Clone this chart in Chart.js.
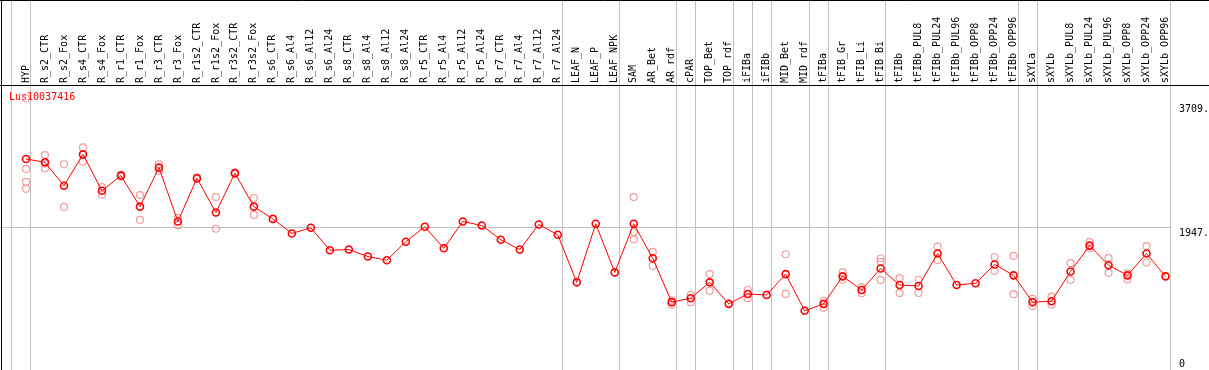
<!DOCTYPE html>
<html>
<head>
<meta charset="utf-8">
<script src="https://cdn.jsdelivr.net/npm/chart.js@4.4.0/dist/chart.umd.min.js"></script>
<style>
html, body { margin: 0; padding: 0; background: #fff; }
canvas { display: block; }
</style>
</head>
<body>
<canvas id="myChartLine" width="1209" height="370"></canvas>
<script>
var geneName = 'Lus10037416';

var categories = ['HYP', 'R_s2_CTR', 'R_s2_Fox', 'R_s4_CTR', 'R_s4_Fox', 'R_r1_CTR', 'R_r1_Fox',
  'R_r3_CTR', 'R_r3_Fox', 'R_r1s2_CTR', 'R_r1s2_Fox', 'R_r3s2_CTR', 'R_r3s2_Fox', 'R_s6_CTR',
  'R_s6_Al4', 'R_s6_Al12', 'R_s6_Al24', 'R_s8_CTR', 'R_s8_Al4', 'R_s8_Al12', 'R_s8_Al24',
  'R_r5_CTR', 'R_r5_Al4', 'R_r5_Al12', 'R_r5_Al24', 'R_r7_CTR', 'R_r7_Al4', 'R_r7_Al12', 'R_r7_Al24',
  'LEAF_N', 'LEAF_P', 'LEAF_NPK', 'SAM', 'AR_Bet', 'AR_rdf', 'cPAR', 'TOP_Bet', 'TOP_rdf',
  'iFIBa', 'iFIBb', 'MID_Bet', 'MID_rdf', 'tFIBa', 'tFIB_Gr', 'tFIB_Li', 'tFIB_Bi', 'tFIBb',
  'tFIBb_PUL8', 'tFIBb_PUL24', 'tFIBb_PUL96', 'tFIBb_OPP8', 'tFIBb_OPP24', 'tFIBb_OPP96',
  'sXYLa', 'sXYLb', 'sXYLb_PUL8', 'sXYLb_PUL24', 'sXYLb_PUL96', 'sXYLb_OPP8', 'sXYLb_OPP24', 'sXYLb_OPP96'];

// mean expression per sample
var meanValues = [2921, 2874, 2540, 2987, 2469, 2685, 2243, 2798, 2032, 2648, 2159, 2719, 2243, 2069,
  1862, 1943, 1623, 1633, 1534, 1482, 1745, 1957, 1651, 2032, 1975, 1773, 1633, 1990, 1844,
  1167, 1999, 1308, 1999, 1510, 885, 941, 1167, 861, 1002, 988, 1284, 762, 861, 1252, 1058, 1364, 1129,
  1115, 1576, 1129, 1153, 1421, 1266, 885, 899, 1322, 1689, 1411, 1266, 1576, 1252];

// individual replicates per sample
var replicateValues = [
  [3781, 2780, 2596, 2497], [2977, 2789, 2856], [2846, 2239], [3086, 2883], [2521, 2413],
  [2700, 2670], [2408, 2056], [2846, 2751], [2084, 1980], [2660, 2636], [2380, 1929],
  [2730, 2708], [2366, 2126], [], [], [], [], [], [], [], [], [], [], [], [], [], [], [], [],
  [], [], [], [2380, 1881, 1778], [1599, 1401], [851, 910], [988, 885], [1284, 1049], [],
  [1058, 941], [], [1566, 1002], [], [804, 905], [1308, 1204], [1096, 1012], [1506, 1458, 1199],
  [1228, 1016], [1204, 1016], [1675, 1486], [], [], [1524, 1331], [1542, 998],
  [931, 828], [964, 847], [1439, 1204], [1740, 1651], [1510, 1302], [1294, 1209], [1683, 1449], []
];

// samples per tissue group (vertical separators)
var groupSizes = [1, 28, 3, 3, 1, 2, 1, 1, 2, 1, 3, 7, 1, 7];

var yTicks = [0, 1947, 3709];
var yTickLabels = ['0', '1947.', '3709.'];
var yMax = 3973;

var replicatePoints = [];
replicateValues.forEach(function (reps, i) {
  reps.forEach(function (v) {
    replicatePoints.push({ x: categories[i], y: v });
  });
});

var monoFont = { family: 'DejaVu Sans Mono', size: 10 };

var framePlugin = {
  id: 'frame',
  beforeDatasetsDraw: function (chart) {
    var c = chart.ctx, x = chart.scales.x, y = chart.scales.y, a = chart.chartArea;
    c.save();
    c.strokeStyle = '#c0c0c0';
    c.lineWidth = 1;
    // group separators
    var idx = -1;
    var ends = [idx];
    groupSizes.forEach(function (n) { idx += n; ends.push(idx); });
    ends.forEach(function (e) {
      var px = Math.round(x.getPixelForValue(e) + 4) + 0.5;
      c.beginPath();
      c.moveTo(px, 0);
      c.lineTo(px, chart.height);
      c.stroke();
    });
    // mid gridline
    var gy = Math.round(y.getPixelForValue(yTicks[1])) + 0.5;
    c.beginPath();
    c.moveTo(0, gy);
    c.lineTo(Math.round(x.getPixelForValue(categories.length - 1) + 4), gy);
    c.stroke();
    // black frame
    c.strokeStyle = '#000';
    c.beginPath();
    c.moveTo(0, 0.5); c.lineTo(chart.width, 0.5);
    c.moveTo(0, Math.round(a.top) + 0.5); c.lineTo(chart.width, Math.round(a.top) + 0.5);
    c.moveTo(1.5, 0); c.lineTo(1.5, chart.height);
    c.stroke();
    // gene name
    c.fillStyle = '#ff0000';
    c.font = '10px "DejaVu Sans Mono"';
    c.textBaseline = 'middle';
    c.fillText(geneName, 9, a.top + 12);
    // y tick labels, text hanging below each tick
    c.fillStyle = '#000';
    c.textBaseline = 'top';
    yTicks.forEach(function (v, i) {
      var ty = Math.min(y.getPixelForValue(v) + 1, chart.height - 11);
      c.fillText(yTickLabels[i], a.right + 4, ty);
    });
    c.restore();
  }
};

var ctx = document.getElementById('myChartLine').getContext('2d');
var chart = new Chart(ctx, {
  type: 'line',
  data: {
    labels: categories,
    datasets: [{
      label: 'mean',
      data: meanValues,
      borderColor: '#ff0000',
      borderWidth: 1,
      pointRadius: 3.5,
      pointBorderWidth: 1.6,
      pointBorderColor: '#ff0000',
      pointBackgroundColor: 'rgba(0,0,0,0)',
      tension: 0
    }, {
      label: 'replicates',
      data: replicatePoints,
      showLine: false,
      pointRadius: 3.5,
      pointBorderWidth: 1.2,
      pointBorderColor: 'rgba(238,140,140,0.85)',
      pointBackgroundColor: 'rgba(0,0,0,0)'
    }]
  },
  options: {
    responsive: false,
    animation: false,
    layout: { padding: { left: 16.5, right: 0, top: 0, bottom: 4 } },
    plugins: {
      legend: { display: false },
      tooltip: { enabled: false },
      title: { display: false }
    },
    scales: {
      x: {
        type: 'category',
        position: 'top',
        offset: true,
        grid: { display: false, drawTicks: false },
        border: { display: false },
        ticks: {
          autoSkip: false,
          maxRotation: 90,
          minRotation: 90,
          padding: 2,
          labelOffset: 12,
          color: '#000',
          font: monoFont
        },
        afterFit: function (scale) { scale.height = 85; }
      },
      y: {
        position: 'right',
        min: 0,
        max: yMax,
        grid: { display: false, drawTicks: false },
        border: { display: false },
        afterBuildTicks: function (scale) {
          scale.ticks = yTicks.map(function (v) { return { value: v }; });
        },
        ticks: { display: false },
        afterFit: function (scale) { scale.width = 34; }
      }
    }
  },
  plugins: [framePlugin]
});
</script>
</body>
</html>
